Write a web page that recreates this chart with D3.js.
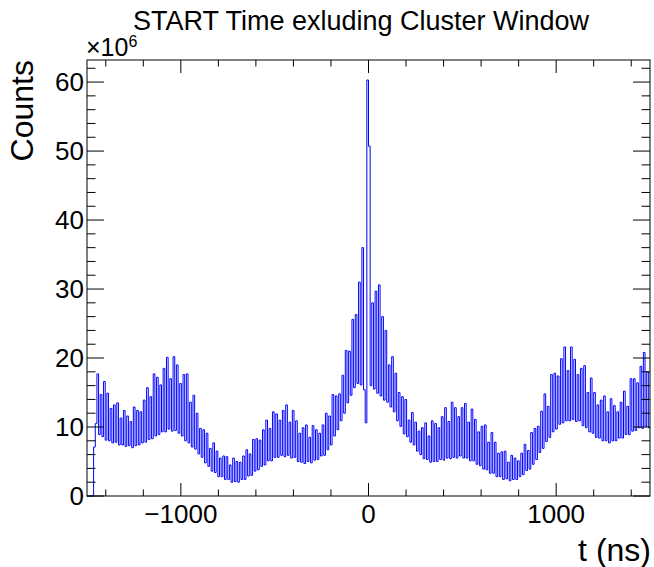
<!DOCTYPE html>
<html>
<head>
<meta charset="utf-8">
<script src="https://cdn.jsdelivr.net/npm/d3@7"></script>
<style>
  body { margin: 0; background: #fff; }
  text { font-family: "Liberation Sans", Arial, Helvetica, sans-serif; fill: #000; }
</style>
</head>
<body>
<svg id="chart" width="654" height="567"></svg>
<script>
// Histogram of START times (ns) with the cluster window excluded.
const titleText = "START Time exluding Cluster Window";
const xTitle = "t (ns)";
const yTitle = "Counts";
const tRange = [-1500, 1500];
const countMax = 63.2;               // in units of 10^6
const xMajorTicks = [-1000, 0, 1000];
const yMajorTicks = [0, 10, 20, 30, 40, 50, 60];

// Each bunch period holds two bins (first, second); counts in 10^6.
const peakCounts = [
  0, 0, 7.1, 17.7, 14.7, 16.6, 14.9, 12.7, 13.2, 13.5,
  11.3, 12.4, 11.6, 10.8, 12.9, 12.4, 12.2, 13.9, 15.7, 14.4,
  17.7, 17.2, 16.1, 18.5, 20.1, 17.0, 20.2, 19.0, 16.3, 17.6,
  17.7, 13.6, 14.6, 12.0, 9.8, 9.6, 9.1, 6.9, 7.7, 6.5,
  5.5, 5.8, 5.7, 4.5, 5.5, 5.0, 4.9, 5.8, 6.7, 6.1,
  8.2, 8.3, 8.1, 9.6, 11.0, 9.8, 12.2, 11.9, 11.0, 12.4,
  13.2, 10.7, 12.4, 10.9, 9.1, 9.9, 10.3, 8.5, 10.2, 9.6,
  9.1, 10.3, 12.0, 11.6, 14.7, 14.5, 14.8, 17.5, 21.1, 21.0,
  25.6, 26.3, 31.0, 36.0, 10.6, 50.7, 28.0, 29.7, 30.6, 26.0,
  24.0, 19.0, 20.2, 17.8, 15.0, 14.4, 14.0, 11.0, 12.1, 10.7,
  9.4, 9.9, 10.6, 8.7, 10.9, 10.5, 9.9, 11.5, 12.8, 10.8,
  13.6, 12.8, 11.5, 12.8, 13.4, 10.7, 12.6, 11.1, 9.3, 10.1,
  10.3, 7.8, 9.2, 7.8, 6.2, 6.4, 6.5, 4.9, 5.9, 5.5,
  5.1, 6.2, 7.5, 6.6, 9.2, 9.8, 10.1, 12.3, 14.8, 13.0,
  17.6, 17.8, 17.4, 19.9, 21.6, 18.2, 21.6, 19.8, 17.6, 18.5,
  18.9, 15.0, 17.1, 15.0, 13.2, 13.9, 14.5, 12.2, 14.1, 13.1,
  12.2, 13.6, 15.2, 13.0, 17.0, 17.0, 16.4, 18.8, 20.8, 18.0
];
const valleyCounts = [
  0, 0, 10.5, 8.9, 8.6, 8.1, 8.0, 7.7, 7.8, 7.4,
  7.4, 7.2, 7.3, 7.0, 7.3, 7.4, 7.7, 7.8, 8.2, 8.3,
  8.7, 8.9, 9.3, 9.3, 9.7, 9.4, 9.5, 9.1, 8.7, 8.0,
  7.7, 7.1, 6.8, 6.1, 5.6, 4.8, 4.3, 3.6, 3.4, 2.8,
  2.8, 2.4, 2.4, 2.0, 2.1, 2.0, 2.4, 2.4, 2.9, 3.0,
  3.6, 3.8, 4.3, 4.5, 5.1, 5.1, 5.6, 5.6, 5.9, 5.7,
  5.9, 5.5, 5.6, 5.0, 4.9, 4.7, 5.0, 4.8, 5.2, 5.3,
  5.8, 5.9, 6.7, 7.4, 8.7, 9.6, 10.9, 12.0, 13.5, 14.6,
  15.7, 16.3, 16.1, 15.4, 60.3, 16.0, 15.5, 14.9, 14.5, 13.9,
  13.6, 12.9, 12.2, 10.9, 10.1, 9.0, 8.6, 7.8, 7.4, 6.5,
  6.0, 5.4, 5.3, 4.9, 5.0, 5.0, 5.3, 5.2, 5.5, 5.4,
  5.6, 5.5, 5.8, 5.5, 5.5, 5.1, 5.1, 4.6, 4.4, 3.9,
  3.8, 3.3, 3.3, 2.8, 2.8, 2.4, 2.5, 2.2, 2.4, 2.4,
  2.8, 3.1, 3.7, 3.9, 4.6, 5.3, 6.3, 6.9, 7.9, 8.5,
  9.3, 9.7, 10.4, 10.6, 10.9, 10.9, 11.1, 10.8, 10.9, 10.2,
  9.9, 9.3, 9.1, 8.5, 8.4, 8.0, 8.0, 7.7, 8.0, 8.0,
  8.4, 8.4, 8.9, 8.9, 9.4, 9.5, 9.9, 9.8, 10.1, 9.9
];

const svg = d3.select("#chart");
const frame = { left: 87, right: 650, top: 60, bottom: 496 };

const x = d3.scaleLinear().domain(tRange).range([frame.left, frame.right]);
const y = d3.scaleLinear().domain([0, countMax]).range([frame.bottom, frame.top]);

// Bin list: two bins per period, uniform width over the time range.
const counts = peakCounts.flatMap((p, i) => [p, valleyCounts[i]]);
const binWidth = (tRange[1] - tRange[0]) / counts.length;
const pts = counts.map((c, i) => [tRange[0] + i * binWidth, c]);
pts.push([tRange[1], counts[counts.length - 1]]);

const histLine = d3.line()
  .x(d => x(d[0]))
  .y(d => y(d[1]))
  .curve(d3.curveStepAfter);

svg.append("path")
  .datum(pts)
  .attr("d", histLine)
  .attr("fill", "none")
  .attr("stroke", "#0000ff")
  .attr("stroke-width", 1);

// Frame
svg.append("rect")
  .attr("x", frame.left).attr("y", frame.top)
  .attr("width", frame.right - frame.left)
  .attr("height", frame.bottom - frame.top)
  .attr("fill", "none").attr("stroke", "#000").attr("stroke-width", 1);

// Ticks on all four sides, pointing inward
const g = svg.append("g").attr("stroke", "#000").attr("stroke-width", 1);
const xMinor = d3.range(-1400, 1500, 200);
const yMinor = d3.range(0, countMax, 2);
const xMajLen = 13, xMinLen = 6.5, yMajLen = 17, yMinLen = 8.5;

xMinor.forEach(t => {
  const len = xMajorTicks.includes(t) ? xMajLen : xMinLen;
  const px = x(t);
  g.append("line").attr("x1", px).attr("x2", px)
    .attr("y1", frame.bottom).attr("y2", frame.bottom - len);
  g.append("line").attr("x1", px).attr("x2", px)
    .attr("y1", frame.top).attr("y2", frame.top + len);
});
yMinor.forEach(v => {
  const len = yMajorTicks.includes(v) ? yMajLen : yMinLen;
  const py = y(v);
  g.append("line").attr("x1", frame.left).attr("x2", frame.left + len)
    .attr("y1", py).attr("y2", py);
  g.append("line").attr("x1", frame.right).attr("x2", frame.right - len)
    .attr("y1", py).attr("y2", py);
});

// Tick labels
const fmt = d3.format("d");
svg.append("g").selectAll("text").data(xMajorTicks).join("text")
  .attr("x", d => x(d)).attr("y", 523)
  .attr("text-anchor", "middle")
  .attr("font-size", 26)
  .text(d => fmt(d));

svg.append("g").selectAll("text").data(yMajorTicks).join("text")
  .attr("x", 84).attr("y", d => y(d))
  .attr("dy", "0.36em")
  .attr("text-anchor", "end")
  .attr("font-size", 26)
  .text(d => fmt(d));

// Exponent marker
const expo = svg.append("text").attr("x", 86).attr("y", 56).attr("font-size", 25);
expo.append("tspan").text("×10");
expo.append("tspan").attr("dy", -9).attr("font-size", 16).text("6");

// Axis titles
svg.append("text")
  .attr("x", 651).attr("y", 561)
  .attr("text-anchor", "end")
  .attr("font-size", 32)
  .text(xTitle);

svg.append("text")
  .attr("transform", "translate(33,60) rotate(-90)")
  .attr("text-anchor", "end")
  .attr("font-size", 32)
  .text(yTitle);

// Title
svg.append("text")
  .attr("x", 361).attr("y", 30)
  .attr("text-anchor", "middle")
  .attr("font-size", 27)
  .text(titleText);
</script>
</body>
</html>
